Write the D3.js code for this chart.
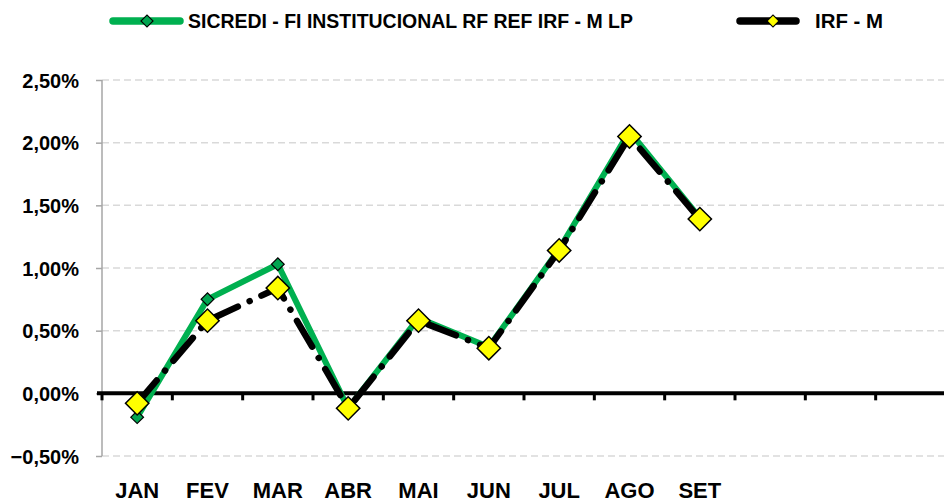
<!DOCTYPE html>
<html>
<head>
<meta charset="utf-8">
<script src="https://cdn.jsdelivr.net/npm/d3@7"></script>
<style>
  html, body { margin: 0; padding: 0; background: #ffffff; }
  svg { display: block; }
</style>
</head>
<body>
<svg id="chart" width="944" height="502"></svg>
<script>
// ---- data ----
const monthLabels = ["JAN","FEV","MAR","ABR","MAI","JUN","JUL","AGO","SET","","",""];
const sicrediValues = [-0.19, 0.75, 1.03, -0.12, 0.60, 0.37, 1.15, 2.09, 1.40];
const irfmValues    = [-0.08, 0.58, 0.84, -0.12, 0.58, 0.36, 1.14, 2.05, 1.39];
const yTicks = [-0.5, 0, 0.5, 1.0, 1.5, 2.0, 2.5];
const seriesNames = ["SICREDI - FI INSTITUCIONAL RF REF IRF - M LP", "IRF - M"];

const fontFam = "'Liberation Sans Narrow', 'Arial Narrow', 'Liberation Sans', Arial, sans-serif";
const svg = d3.select("#chart");

const x = d3.scaleBand().domain(d3.range(monthLabels.length)).range([102, 946]).paddingInner(0).paddingOuter(0);
const y = d3.scaleLinear().domain([-0.5, 2.5]).range([456, 80]);
const fmt = v => d3.format(".2f")(v).replace(".", ",") + "%";

// gridlines
svg.append("g").selectAll("line").data(yTicks.filter(t => t !== 0)).join("line")
  .attr("x1", 102).attr("x2", 944)
  .attr("y1", d => y(d)).attr("y2", d => y(d))
  .attr("stroke", "#d9d9d9").attr("stroke-width", 1.5).attr("stroke-dasharray", "7,4");

// y axis
const yAxis = svg.append("g").attr("transform", "translate(102,0)")
  .call(d3.axisLeft(y).tickValues(yTicks).tickSize(6).tickFormat(fmt).tickPadding(17));
yAxis.select(".domain").attr("stroke", "#a6a6a6").attr("stroke-width", 1.5).attr("d", `M0,${y(2.5)}V${y(-0.5)}`);
yAxis.selectAll(".tick line").attr("stroke", "#a6a6a6").attr("stroke-width", 1.5);
yAxis.selectAll(".tick text")
  .attr("font-family", "'Liberation Sans', Arial, sans-serif")
  .attr("font-weight", "bold").attr("font-size", 20).attr("fill", "#000")
  .attr("dy", "0.35em");

// x axis (zero line)
const xAxis = svg.append("g").attr("transform", `translate(0,${y(0)})`)
  .call(d3.axisBottom(x).tickSize(0).tickFormat(i => monthLabels[i]));
xAxis.select(".domain").remove();
xAxis.selectAll(".tick text")
  .attr("y", 105).attr("dy", 0)
  .attr("font-family", fontFam).attr("font-weight", "bold").attr("font-size", 22).attr("fill", "#000");
svg.append("line").attr("x1", 97).attr("x2", 944).attr("y1", y(0)).attr("y2", y(0))
  .attr("stroke", "#000").attr("stroke-width", 4);
svg.append("g").selectAll("line").data(d3.range(monthLabels.length)).join("line")
  .attr("x1", d => x(d)).attr("x2", d => x(d))
  .attr("y1", y(0)).attr("y2", y(0) + 7)
  .attr("stroke", "#000").attr("stroke-width", 3);

const cx = i => x(i) + x.bandwidth() / 2;
const line = d3.line().x((d, i) => cx(i)).y(d => y(d));
const diamond = (s) => d3.symbol().type(d3.symbolSquare).size(s * s);

// green series
svg.append("path").datum(sicrediValues).attr("d", line)
  .attr("fill", "none").attr("stroke", "#00b050").attr("stroke-width", 6)
  .attr("stroke-linejoin", "round");
svg.append("g").selectAll("path").data(sicrediValues).join("path")
  .attr("d", diamond(9))
  .attr("transform", (d, i) => `translate(${cx(i)},${y(d)}) rotate(45)`)
  .attr("fill", "#00a550").attr("stroke", "#000").attr("stroke-width", 1.2);

// black series
svg.append("path").datum(irfmValues).attr("d", line)
  .attr("fill", "none").attr("stroke", "#000").attr("stroke-width", 6.5)
  .attr("stroke-linecap", "round").attr("stroke-linejoin", "round")
  .attr("stroke-dasharray", "30,13,0.01,13");
svg.append("g").selectAll("path").data(irfmValues).join("path")
  .attr("d", diamond(16.5))
  .attr("transform", (d, i) => `translate(${cx(i)},${y(d)}) rotate(45)`)
  .attr("fill", "#ffff00").attr("stroke", "#000").attr("stroke-width", 1.5);

// legend
const leg = svg.append("g");
leg.append("line").attr("x1", 113).attr("x2", 180).attr("y1", 21).attr("y2", 21)
  .attr("stroke", "#00b050").attr("stroke-width", 7.5).attr("stroke-linecap", "round");
leg.append("path").attr("d", diamond(8.5)).attr("transform", "translate(147,21) rotate(45)")
  .attr("fill", "#00a550").attr("stroke", "#000").attr("stroke-width", 1.2);
leg.append("text").attr("x", 188).attr("y", 28).text(seriesNames[0])
  .attr("font-family", fontFam).attr("font-weight", "bold").attr("font-size", 20)
  .attr("textLength", 445).attr("lengthAdjust", "spacingAndGlyphs");
leg.append("line").attr("x1", 740).attr("x2", 796).attr("y1", 21).attr("y2", 21)
  .attr("stroke", "#000").attr("stroke-width", 7.5).attr("stroke-linecap", "round");
leg.append("path").attr("d", diamond(8.5)).attr("transform", "translate(773,21) rotate(45)")
  .attr("fill", "#ffff00").attr("stroke", "#000").attr("stroke-width", 1.2);
leg.append("text").attr("x", 815).attr("y", 28).text(seriesNames[1])
  .attr("font-family", fontFam).attr("font-weight", "bold").attr("font-size", 20)
  .attr("textLength", 68).attr("lengthAdjust", "spacingAndGlyphs");
</script>
</body>
</html>
